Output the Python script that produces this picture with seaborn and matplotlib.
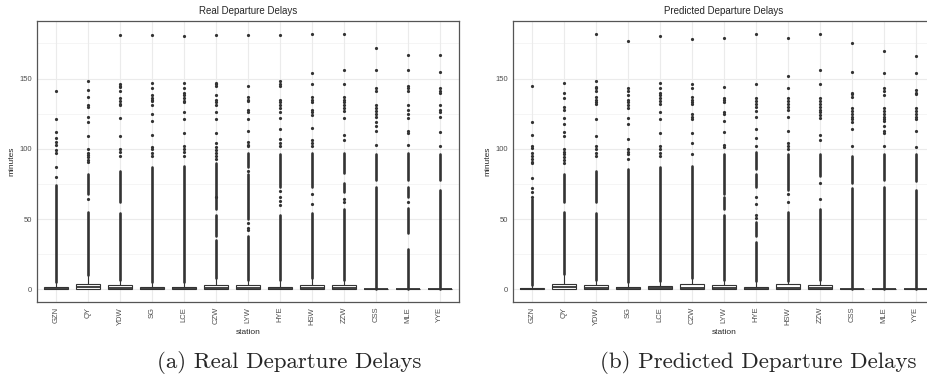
import matplotlib
matplotlib.use("Agg")
import matplotlib.pyplot as plt
import seaborn as sns
import pandas as pd
import numpy as np

stations = ["GZN", "QY", "YDW", "SG", "LCE", "CZW", "LYW", "HYE", "HSW", "ZZW", "CSS", "MLE", "YYE"]

# ---- Real departure delays ----
real_q1 = [0, 0, 0, 0, 0, 0, 0, 0, 0, 0, 0, 0, 0]
real_med = [0.5, 2, 1, 0.5, 0.7, 1, 1, 0.5, 1, 1, 0, 0, 0]
real_q3 = [2, 4, 3, 2, 1.5, 3, 3, 2, 3, 3, 0, 0, 0]
real_whishi = [5, 10, 7, 5, 5, 8, 7, 7, 8, 7, 0, 0, 0]
real_dense = [
    [(5, 74)],
    [(10, 55), (68, 82)],
    [(7, 54), (62, 84)],
    [(5, 87)],
    [(5, 88)],
    [(8, 35), (38, 53), (57, 90)],
    [(7, 38), (50, 82), (87, 97)],
    [(7, 53), (73, 96)],
    [(8, 54), (73, 97)],
    [(7, 57), (69, 76), (83, 97)],
    [(0, 73), (78, 96)],
    [(0, 29), (40, 58), (66, 73), (78, 97)],
    [(0, 71), (78, 96)],
]
real_sparse = [
    [141, 121, 112, 108, 105, 103, 99, 97, 87, 80],
    [148, 142, 137, 131, 130, 123, 119, 109, 100, 97, 95.5, 94, 92, 90.5, 64],
    [181, 146, 145, 144, 141, 136, 134, 132, 131, 122, 109, 100, 98, 95],
    [181, 147, 143, 138, 136, 135, 134, 131, 125, 120, 110, 101, 100, 97, 95],
    [180, 147, 143, 140, 138, 136, 134, 133, 126, 121, 111, 102, 100, 98, 95],
    [181, 147, 146, 145, 138, 135, 133, 131, 126, 121, 111, 104, 101, 99, 97, 95, 93, 66],
    [181, 145, 137, 135, 134, 128, 126, 121, 113, 105, 103, 102, 84, 47, 44, 42],
    [181, 148, 146, 145, 135, 133, 131, 129, 126, 122, 114, 107, 104, 102, 70, 66, 63, 60],
    [182, 154, 146, 137, 135, 133, 128, 126, 124, 115, 106, 104, 102, 68, 61],
    [182, 156, 146, 137, 135, 133, 131, 129, 127, 122, 110, 106, 64, 62],
    [172, 156, 143, 141, 131, 129, 127, 125, 123, 119, 116, 113, 103],
    [167, 156, 145, 143, 141, 131, 128, 125, 122, 113, 111, 103, 62],
    [167, 155, 143, 141, 140, 131, 128, 126, 123, 112, 102],
]

# ---- Predicted departure delays ----
pred_q1 = [0, 0, 0, 0, 0, 0, 0, 0, 0, 0, 0, 0, 0]
pred_med = [0.3, 2, 1, 0.7, 1, 1, 1, 0.5, 1, 1, 0, 0, 0]
pred_q3 = [1, 4, 3, 2, 2.5, 3.5, 3, 2, 4, 3, 0, 0, 0]
pred_whishi = [3, 11, 7, 5, 6, 8, 7, 6, 6, 7, 0, 0, 0]
pred_dense = [
    [(3, 64)],
    [(11, 55), (62, 82)],
    [(7, 54), (62, 84)],
    [(5, 86)],
    [(6, 87)],
    [(8, 88)],
    [(7, 53), (57, 66), (68, 96)],
    [(6, 34), (38, 48), (73, 82), (86, 98)],
    [(6, 55), (71, 96)],
    [(7, 57), (81, 96)],
    [(0, 72), (76, 95)],
    [(0, 73), (78, 96)],
    [(0, 71), (77, 96)],
]
pred_sparse = [
    [145, 119, 110, 102, 100.5, 97, 95, 93, 91, 90, 79, 72, 69, 66],
    [147, 140, 136, 130, 128, 122, 118, 112, 109, 100, 98, 96, 94, 92, 90],
    [182, 148, 144, 143, 141, 137, 135, 133, 132, 121, 109, 102, 100, 97, 95],
    [177, 143, 141, 138, 135, 133, 131, 129, 122, 118, 107, 100, 98, 96, 93],
    [180, 147, 143, 140, 138, 136, 134, 132, 126, 121, 111, 102, 100, 97, 95],
    [178, 146, 143, 137, 135, 133, 132, 125, 123, 121, 111, 104, 96],
    [179, 144, 136, 135, 133, 126, 125, 120, 112, 103, 101],
    [182, 146, 136, 134, 132, 130, 127, 123, 114, 108, 102, 66, 61, 53, 51],
    [179, 152, 143, 136, 134, 132, 130, 128, 123, 113, 104, 102, 100, 68, 62],
    [182, 156, 146, 136, 134, 132, 130, 128, 126, 124, 122, 110, 106, 76, 64],
    [175, 155, 140, 139, 137, 129, 127, 125, 123, 121, 119, 114, 102],
    [170, 154, 143, 141, 138, 129, 127, 125, 123, 121, 120, 116, 113, 111, 102],
    [166, 154, 142, 140, 139, 129, 127, 125, 123, 121, 113, 101],
]

titles = ["Real Departure Delays", "Predicted Departure Delays"]
captions = ["(a) Real Departure Delays", "(b) Predicted Departure Delays"]

sns.set_theme(style="white")
plt.rcParams["font.family"] = ["Liberation Sans", "DejaVu Sans"]

W, H = 927, 384
fig = plt.figure(figsize=(W / 100, H / 100), dpi=100)

DOT = "#333333"
panels = [
    (37, 289, real_q1, real_med, real_q3, real_whishi, real_dense, real_sparse),
    (513, 758, pred_q1, pred_med, pred_q3, pred_whishi, pred_dense, pred_sparse),
]

for i, (left_px, cap_x, q1, med, q3, whi, dense, sparse) in enumerate(panels):
    ax = fig.add_axes([left_px / W, 1 - 302 / H, 422 / W, 281 / H])
    ax.set_facecolor("white")
    # grid
    for yv in [25, 75, 125, 175]:
        ax.axhline(yv, color="#f2f2f2", lw=0.5, zorder=0)
    for yv in [0, 50, 100, 150]:
        ax.axhline(yv, color="#ebebeb", lw=0.8, zorder=0)
    for xv in range(len(stations)):
        ax.axvline(xv, color="#ebebeb", lw=0.8, zorder=0)

    # dense (overplotted) outlier runs
    xs, lo, hi = [], [], []
    for k, segs in enumerate(dense):
        for a, b in segs:
            xs.append(k); lo.append(a); hi.append(b)
    ax.vlines(xs, lo, hi, colors=DOT, lw=1.9, capstyle="round", zorder=2)

    # sparse outliers
    rows = [(stations[k], v) for k, vals in enumerate(sparse) for v in vals]
    df = pd.DataFrame(rows, columns=["station", "minutes"])
    sns.stripplot(data=df, x="station", y="minutes", order=stations, jitter=False,
                  color=DOT, size=2.3, linewidth=0, ax=ax, zorder=3)

    # boxes
    stats = [dict(med=med[k], q1=q1[k], q3=q3[k], whislo=q1[k], whishi=whi[k],
                  fliers=[], label=stations[k]) for k in range(len(stations))]
    ax.bxp(stats, positions=range(len(stations)), widths=0.75, showfliers=False,
           patch_artist=True, manage_ticks=False,
           boxprops=dict(facecolor="white", edgecolor=DOT, lw=0.8),
           medianprops=dict(color=DOT, lw=1.3),
           whiskerprops=dict(color=DOT, lw=0.8),
           capprops=dict(lw=0), zorder=4)

    ax.set_xlim(-0.6, len(stations) - 0.4)
    ax.set_ylim(-9, 191)
    ax.set_yticks([0, 50, 100, 150])
    ax.set_yticklabels(["0", "50", "100", "150"])
    ax.set_xticks(range(len(stations)))
    ax.set_xticklabels(stations, rotation=90)
    ax.tick_params(axis="both", labelsize=5.5, labelcolor="#4d4d4d", length=2,
                   width=0.6, color="#333333", pad=1.5)
    for sp in ax.spines.values():
        sp.set_visible(True)
        sp.set_color("#555555")
        sp.set_linewidth(0.9)
    ax.set_xlabel("station", fontsize=6, labelpad=3)
    ax.set_ylabel("minutes", fontsize=6, labelpad=3)
    ax.set_title(titles[i], fontsize=7, pad=5)
    fig.text(cap_x / W, 1 - 363 / H, captions[i], ha="center", va="center",
             fontsize=16.5, family="cmr10")

fig.savefig("out.png", dpi=100)
